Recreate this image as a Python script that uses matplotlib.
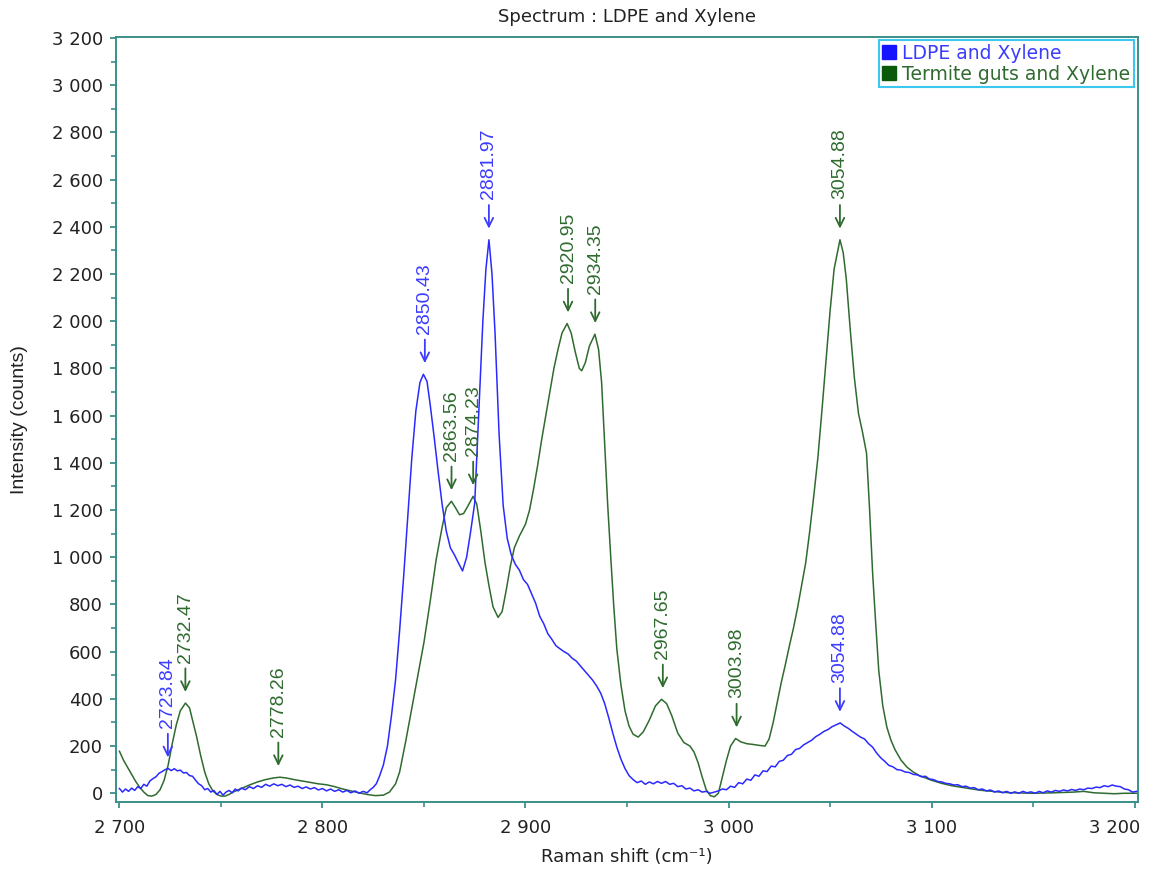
import matplotlib
matplotlib.use("Agg")
import matplotlib.pyplot as plt
from matplotlib.ticker import MultipleLocator, FuncFormatter
from matplotlib.lines import Line2D
from matplotlib.transforms import ScaledTranslation

# ---------------- data ----------------
title = "Spectrum : LDPE and Xylene"
x_label = "Raman shift (cm⁻¹)"
y_label = "Intensity (counts)"
series_names = ["LDPE and Xylene", "Termite guts and Xylene"]

ldpe_shift = [
    2700, 2701.5, 2703, 2704.5, 2706, 2707.5, 2709, 2710.5, 2712, 2713.5,
    2715, 2716.5, 2718, 2719.5, 2721, 2722.5, 2724, 2725.5, 2727, 2728.5,
    2730, 2731.5, 2733, 2734.5, 2736, 2737.5, 2739, 2740.5, 2742, 2743.5,
    2745, 2746.5, 2748, 2749.5, 2751, 2752.5, 2754, 2755.5, 2757, 2758.5,
    2760, 2762, 2764, 2766, 2768, 2770, 2772, 2774, 2776, 2778,
    2780, 2782, 2784, 2786, 2788, 2790, 2792, 2794, 2796, 2798,
    2800, 2802, 2804, 2806, 2808, 2810, 2812, 2814, 2816, 2818,
    2820, 2822, 2823.5, 2825, 2826.5, 2828, 2830, 2832, 2834, 2836,
    2838, 2840, 2842, 2844, 2846, 2848, 2849.7, 2851.5, 2853, 2855,
    2857, 2859, 2861, 2863, 2865, 2867, 2869, 2871, 2873, 2875,
    2877, 2879, 2880.5, 2882, 2883.5, 2885, 2887, 2889, 2891, 2893,
    2895, 2897, 2899, 2901, 2903, 2905, 2907, 2909, 2911, 2913,
    2915, 2917, 2919, 2921, 2923, 2925, 2927, 2929, 2931, 2933,
    2935, 2937, 2939, 2941, 2943, 2945, 2947, 2949, 2951, 2953,
    2955, 2957, 2959, 2961, 2963, 2965, 2967, 2969, 2971, 2973,
    2975, 2977, 2979, 2981, 2983, 2985, 2987, 2989, 2991, 2993,
    2995, 2997, 2999, 3001, 3003, 3005, 3007, 3009, 3011, 3013,
    3015, 3017, 3019, 3021, 3023, 3025, 3027, 3029, 3031, 3033,
    3035, 3037, 3039, 3041, 3043, 3045, 3047, 3049, 3051, 3053,
    3055, 3057, 3059, 3061, 3063, 3065, 3067, 3069, 3071, 3073,
    3075, 3077, 3079, 3081, 3083, 3085, 3087, 3089, 3091, 3093,
    3095, 3097, 3099, 3101, 3103, 3105, 3107, 3109, 3111, 3113,
    3115, 3117, 3119, 3121, 3123, 3125, 3127, 3129, 3131, 3133,
    3135, 3137, 3139, 3141, 3143, 3145, 3147, 3149, 3151, 3153,
    3155, 3157, 3159, 3161, 3163, 3165, 3167, 3169, 3171, 3173,
    3175, 3177, 3179, 3181, 3183, 3185, 3187, 3189, 3191, 3193,
    3195, 3197, 3199, 3201,
]
ldpe_counts = [
    20, 5, 18, 8, 22, 12, 28, 20, 38, 30,
    52, 62, 70, 85, 92, 100, 105, 96, 104, 95,
    98, 86, 88, 75, 72, 55, 40, 32, 15, 20,
    5, 12, -5, 8, -8, 5, 12, 2, 18, 10,
    22, 15, 28, 20, 32, 25, 38, 30, 40, 32,
    38, 28, 35, 25, 30, 20, 27, 18, 24, 14,
    20, 10, 18, 8, 15, 5, 12, 2, 10, 0,
    8, 2, 15, 25, 40, 70, 120, 200, 330, 480,
    690, 920, 1170, 1420, 1620, 1740, 1775, 1745, 1650, 1510,
    1360, 1220, 1110, 1040, 1010, 975, 942, 1000, 1110, 1230,
    1620, 2000, 2220, 2345, 2200, 1950, 1520, 1220, 1080, 1010,
    970, 945, 905, 885, 845, 805, 750, 718, 676, 652,
    625, 612, 600, 590, 572, 560, 540, 520, 500, 480,
    455, 425, 380, 320, 255, 195, 145, 105, 75, 58,
    45, 52, 38, 48, 40, 50, 42, 50, 38, 42,
    28, 32, 18, 22, 10, 15, 5, 8, 0, 5,
    10, 18, 15, 30, 25, 45, 40, 60, 55, 78,
    72, 95, 92, 115, 112, 135, 140, 160, 165, 185,
    190, 205, 215, 225, 240, 250, 262, 270, 282, 290,
    298, 285, 275, 262, 250, 238, 230, 210, 195, 170,
    150, 135, 118, 112, 100, 98, 90, 88, 80, 78,
    70, 72, 60, 58, 50, 48, 42, 40, 35, 36,
    28, 30, 22, 24, 15, 18, 10, 14, 5, 10,
    2, 8, 0, 6, 0, 8, 2, 6, 0, 8,
    2, 10, 5, 12, 8, 14, 10, 16, 12, 18,
    15, 22, 20, 26, 24, 32, 28, 35, 30, 28,
    18, 15, 5, 8,
]

termite_shift = [
    2700, 2702, 2704, 2706, 2708, 2710, 2712, 2714, 2716, 2718,
    2720, 2722, 2724, 2726, 2728, 2730, 2732.5, 2734.5, 2736, 2738,
    2740, 2742, 2744, 2746, 2748, 2750, 2752, 2754, 2756, 2760,
    2764, 2768, 2772, 2776, 2779, 2782, 2786, 2790, 2794, 2798,
    2802, 2806, 2810, 2814, 2818, 2822, 2826, 2830, 2833, 2836,
    2838, 2841, 2844, 2847, 2850, 2853, 2856, 2859, 2861, 2863.5,
    2865.5, 2867.5, 2869.5, 2871.5, 2874.2, 2876, 2878, 2880, 2882, 2884,
    2886.5, 2888.5, 2890.5, 2892.5, 2894.5, 2897, 2900, 2902, 2904, 2906,
    2908, 2910, 2912, 2914, 2916, 2918, 2920.5, 2922.5, 2924.5, 2926.5,
    2927.7, 2929.5, 2931.5, 2934.2, 2936, 2937.5, 2939, 2940.5, 2942, 2943.5,
    2945, 2947, 2949, 2951, 2953, 2955.5, 2958, 2961, 2964, 2967,
    2969.5, 2972, 2975, 2978, 2981, 2983, 2985, 2987, 2989, 2991,
    2993, 2995, 2997, 2999, 3001, 3003.5, 3006, 3009, 3012, 3015,
    3018, 3020, 3022, 3024, 3026, 3028, 3030, 3032, 3034, 3036,
    3038, 3040, 3042, 3044, 3046, 3048, 3050, 3052, 3054.9, 3056.5,
    3058, 3060, 3062, 3064, 3066, 3068, 3069.5, 3071, 3072.5, 3074,
    3076, 3078, 3080, 3082, 3085, 3088, 3091, 3094, 3097, 3100,
    3105, 3110, 3115, 3120, 3125, 3130, 3135, 3140, 3150, 3160,
    3170, 3175, 3180, 3185, 3190, 3195, 3201,
]
termite_counts = [
    178, 140, 110, 80, 50, 25, 5, -10, -12, -5,
    15, 55, 120, 210, 290, 350, 382, 362, 310, 240,
    160, 90, 40, 10, -5, -12, -12, -5, 5, 20,
    35, 48, 58, 65, 68, 65, 58, 52, 46, 40,
    36, 28, 18, 10, 2, -5, -10, -8, 5, 40,
    90, 220, 360, 500, 640, 810, 990, 1130, 1210, 1237,
    1210, 1180, 1185, 1215, 1258, 1225, 1110, 980, 880, 790,
    745, 770, 860, 960, 1040, 1090, 1140, 1200, 1290, 1390,
    1500, 1600, 1700, 1800, 1880, 1950, 1990, 1950, 1870, 1800,
    1790, 1825, 1895, 1945, 1880, 1740, 1480, 1220, 1000, 790,
    610, 460, 350, 285, 250, 238, 260, 310, 370, 398,
    380, 330, 255, 215, 200, 175, 130, 70, 15, -10,
    -15, 0, 70, 140, 200, 232, 218, 210, 207, 203,
    200, 230, 300, 385, 470, 545, 625, 700, 785, 880,
    975, 1110, 1260, 1420, 1620, 1830, 2040, 2220, 2345, 2290,
    2180, 1960, 1760, 1610, 1530, 1440, 1200, 930, 720, 520,
    370, 280, 225, 185, 140, 110, 90, 75, 65, 55,
    42, 32, 25, 18, 12, 8, 4, 2, 0, 2,
    5, 8, 2, 0, -2, 0, 0,
]

ldpe_peak_shifts = [2723.84, 2850.43, 2881.97, 3054.88]
ldpe_peak_counts = [105, 1775, 2345, 298]
termite_peak_shifts = [2732.47, 2778.26, 2863.56, 2874.23, 2920.95,
                       2934.35, 2967.65, 3003.98, 3054.88]
termite_peak_counts = [382, 68, 1237, 1258, 1990, 1945, 398, 232, 2345]

x_ticks = [2700, 2800, 2900, 3000, 3100, 3200]
y_ticks = [0, 200, 400, 600, 800, 1000, 1200, 1400, 1600, 1800, 2000,
           2200, 2400, 2600, 2800, 3000, 3200]

# ---------------- style ----------------
blue_line = "#2a2aff"
green_line = "#2f6b2f"
blue_text = "#3c3cff"
green_text = "#2f6b2f"
spine_col = "#3b8f8a"
legend_edge = "#3cc7ef"

plt.rcParams["font.family"] = ["DejaVu Sans"]
rot_family = ["Liberation Sans", "DejaVu Sans"]

W, H = 1150, 871
fig = plt.figure(figsize=(W / 100, H / 100), dpi=100)
ax_l, ax_r, ax_t, ax_b = 116, 1138, 37, 802
ax = fig.add_axes([ax_l / W, 1 - ax_b / H, (ax_r - ax_l) / W, (ax_b - ax_t) / H])

ax.plot(termite_shift, termite_counts, color=green_line, lw=1.1, zorder=2)
ax.plot(ldpe_shift, ldpe_counts, color=blue_line, lw=1.1, zorder=3)

ax.set_xlim(2698.3, 3201.7)
ax.set_ylim(-37, 3204)

fmt = FuncFormatter(lambda v, p: f"{int(round(v)):,}".replace(",", " "))
ax.set_xticks(x_ticks)
ax.set_yticks(y_ticks)
ax.xaxis.set_major_formatter(fmt)
ax.yaxis.set_major_formatter(fmt)
ax.xaxis.set_minor_locator(MultipleLocator(50))
ax.yaxis.set_minor_locator(MultipleLocator(100))

for s in ax.spines.values():
    s.set_color(spine_col)
    s.set_linewidth(1.4)
ax.tick_params(which="major", length=4.5, width=1.3, color=spine_col,
               labelsize=13, labelcolor="#222222")
ax.tick_params(which="minor", length=3.5, width=1.2, color=spine_col)
ax.tick_params(axis="x", which="major", pad=8)
ax.tick_params(axis="y", which="major", pad=5)

# keep the last x tick label inside the figure (as in the reference)
last_lbl = ax.xaxis.get_major_ticks()[-1].label1
last_lbl.set_horizontalalignment("right")
last_lbl.set_transform(last_lbl.get_transform() +
                       ScaledTranslation(6 / 100, 0, fig.dpi_scale_trans))

# annotations (peak labels with downward arrows)
def label_peaks(xs, ys, col):
    for px, py in zip(xs, ys):
        ax.annotate(f"{px:.2f}", xy=(px, py), xytext=(0, 29),
                    textcoords="offset points", rotation=90,
                    ha="center", va="bottom", color=col, fontsize=14,
                    family=rot_family, zorder=5,
                    arrowprops=dict(arrowstyle="->,head_length=0.45,head_width=0.22",
                                    color=col, lw=1.3, shrinkA=2, shrinkB=8))

label_peaks(termite_peak_shifts, termite_peak_counts, green_text)
label_peaks(ldpe_peak_shifts, ldpe_peak_counts, blue_text)

# legend
handles = [
    Line2D([], [], linestyle="none", marker="s", markersize=9.5,
           markerfacecolor="#1414ff", markeredgecolor="#1414ff"),
    Line2D([], [], linestyle="none", marker="s", markersize=9.5,
           markerfacecolor="#0a5a0a", markeredgecolor="#0a5a0a"),
]
leg = ax.legend(handles, series_names, loc="upper right",
                bbox_to_anchor=(1 - 4 / 1022, 1 - 3 / 765), borderaxespad=0,
                frameon=True, fancybox=False, edgecolor=legend_edge,
                framealpha=1, fontsize=13.5, handlelength=0.7,
                handletextpad=0.35, borderpad=0.2, labelspacing=0.1)
leg.get_frame().set_linewidth(1.5)
for t, c in zip(leg.get_texts(), [blue_text, green_text]):
    t.set_color(c)

# titles / axis labels
fig.text(627 / W, 1 - 17 / H, title, ha="center", va="center",
         fontsize=13, color="#222222")
fig.text(627 / W, 1 - 857 / H, x_label, ha="center", va="center",
         fontsize=13, color="#222222")
fig.text(20 / W, 1 - 420 / H, y_label, ha="center", va="center",
         rotation=90, fontsize=14, family=rot_family, color="#222222")

fig.savefig("out.png", dpi=100)
